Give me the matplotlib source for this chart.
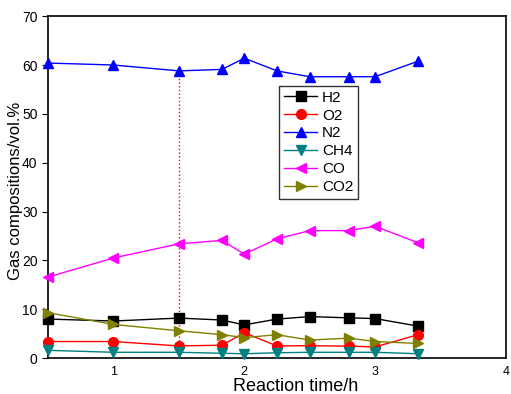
import matplotlib.pyplot as plt

plt.rcParams['font.family'] = ['Liberation Sans', 'DejaVu Sans']

# Reaction time (h)
time_h = [0.5, 1.0, 1.5, 1.83, 2.0, 2.25, 2.5, 2.8, 3.0, 3.33]

h2 = [8.0, 7.6, 8.2, 7.8, 6.8, 8.0, 8.5, 8.25, 8.1, 6.55]
o2 = [3.4, 3.4, 2.5, 2.65, 5.2, 2.5, 2.55, 2.45, 2.3, 4.8]
n2 = [60.4, 60.0, 58.8, 59.1, 61.4, 58.8, 57.6, 57.6, 57.6, 60.8]
ch4 = [1.6, 1.2, 1.2, 1.0, 0.9, 1.1, 1.2, 1.2, 1.2, 0.9]
co = [16.6, 20.5, 23.4, 24.1, 21.3, 24.4, 26.1, 26.1, 27.0, 23.6]
co2 = [9.3, 6.9, 5.6, 4.8, 4.2, 4.8, 3.7, 4.1, 3.4, 3.0]

fig = plt.figure(figsize=(5.11, 3.94), dpi=100)
ax = fig.add_axes([0.094, 0.091, 0.896, 0.868])

series = [
    ('H2', h2, 'black', 's'),
    ('O2', o2, 'red', 'o'),
    ('N2', n2, 'blue', '^'),
    ('CH4', ch4, '#008080', 'v'),
    ('CO', co, 'magenta', '<'),
    ('CO2', co2, '#808000', '>'),
]
for name, vals, color, mk in series:
    ax.plot(time_h, vals, color=color, marker=mk, markersize=7, lw=1,
            label=name, clip_on=False, zorder=3)

# dotted guide line at 1.5 h
ax.plot([1.5, 1.5], [1.2, 57.8], color='red', ls=':', lw=1, zorder=2)

ax.set_xlim(0.5, 4)
ax.set_ylim(0, 70)
ax.set_xticks([1, 2, 3, 4])
ax.set_yticks(range(0, 71, 10))
ax.tick_params(axis='x', length=0, labelsize=9, pad=6)
ax.tick_params(axis='y', direction='out', length=4, labelsize=10)
for s in ax.spines.values():
    s.set_linewidth(1.2)

ax.set_xlabel('Reaction time/h', fontsize=13, labelpad=0, x=0.54)
ax.set_ylabel('Gas compositions/vol.%', fontsize=12, labelpad=-1, y=0.49)

leg = ax.legend(loc='upper left', bbox_to_anchor=(0.505, 0.795), fontsize=11,
                frameon=True, fancybox=False, edgecolor='black',
                handlelength=2.2, handletextpad=0.3, labelspacing=0.25,
                borderpad=0.3, borderaxespad=0)
leg.get_frame().set_linewidth(1)

fig.savefig('out.png', dpi=100)
